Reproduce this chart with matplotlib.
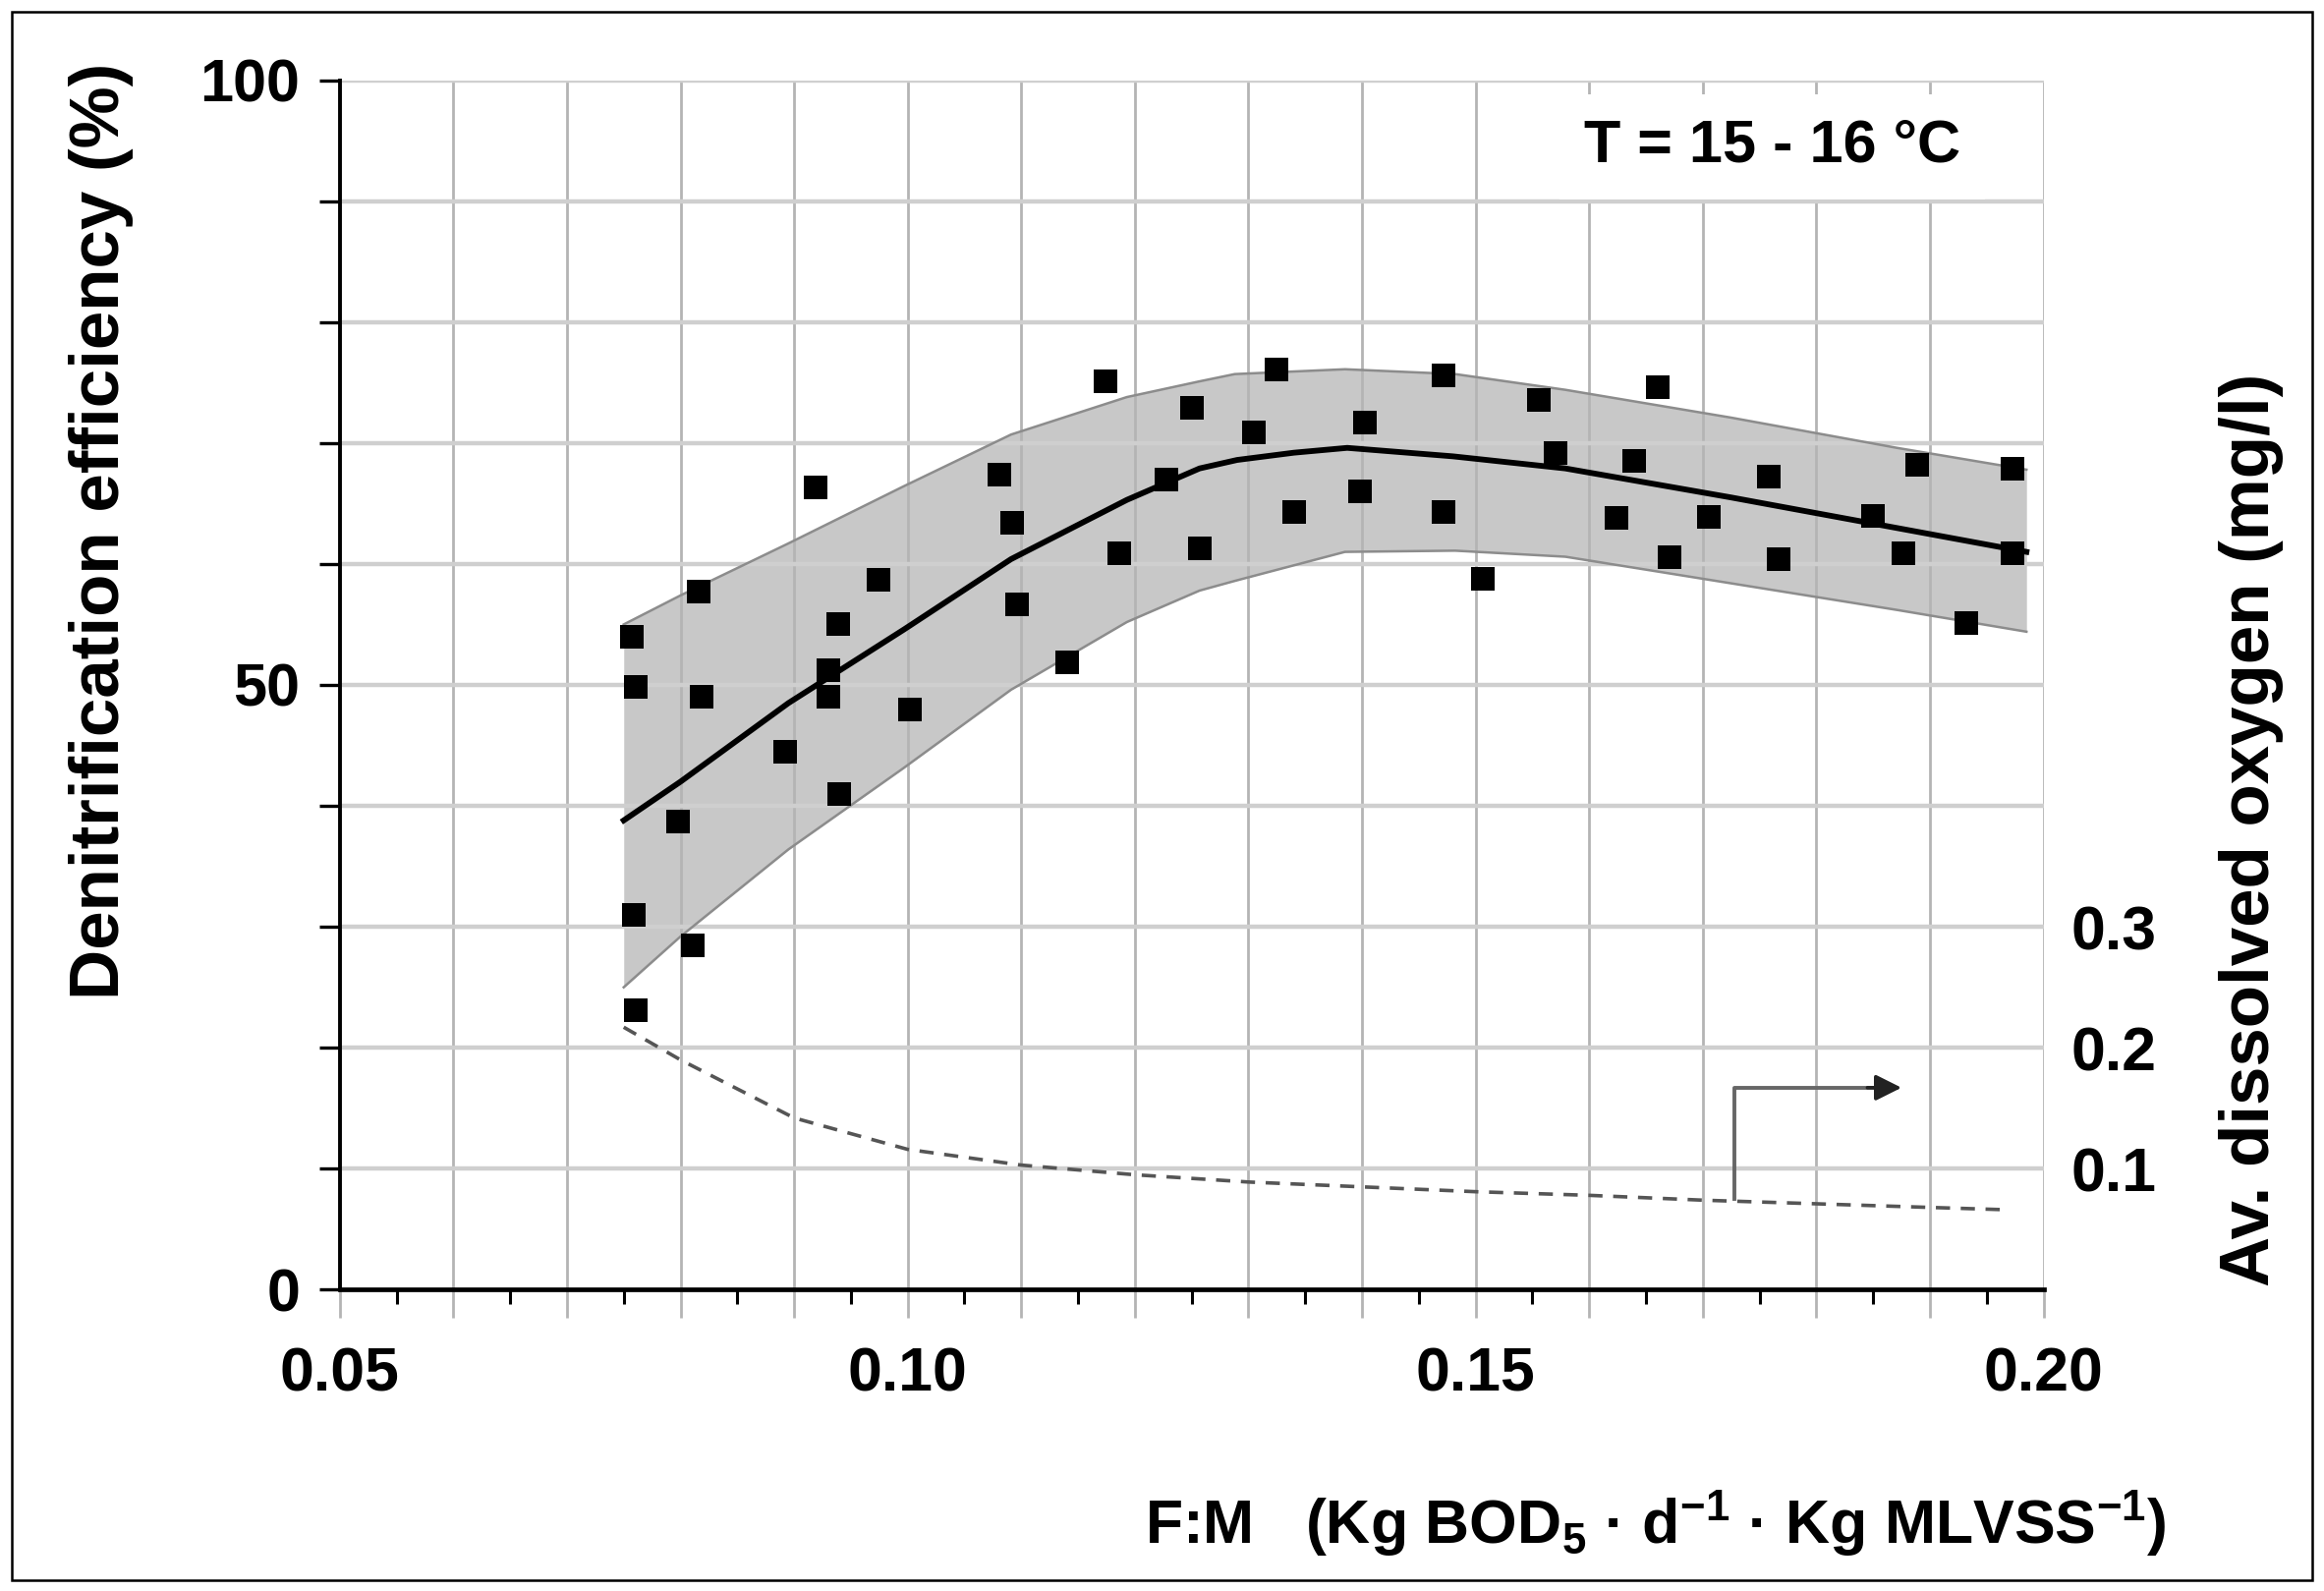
import numpy as np
import matplotlib
matplotlib.use("Agg")
import matplotlib.pyplot as plt
from matplotlib.patches import Rectangle

plt.rcParams['font.family'] = ['Liberation Sans', 'DejaVu Sans']
plt.rcParams['mathtext.fontset'] = 'custom'
plt.rcParams['mathtext.rm'] = 'Liberation Sans:bold'
plt.rcParams['mathtext.bf'] = 'Liberation Sans:bold'

# measured points: F:M ratio vs denitrification efficiency (%)
fm_obs = [0.0757, 0.0761, 0.0759, 0.0761, 0.0798, 0.0811, 0.0816, 0.0819,
          0.0892, 0.0919, 0.0930, 0.0930, 0.0939, 0.0940, 0.0974, 0.1002,
          0.1081, 0.1092, 0.1096, 0.1140, 0.1174, 0.1186, 0.1228, 0.1250,
          0.1257, 0.1305, 0.1325, 0.1340, 0.1398, 0.1403, 0.1472, 0.1472,
          0.1506, 0.1556, 0.1570, 0.1624, 0.1640, 0.1660, 0.1671, 0.1705,
          0.1758, 0.1767, 0.1850, 0.1877, 0.1889, 0.1932, 0.1973, 0.1973]
eff_obs = [54.0, 49.8, 31.0, 23.1, 38.7, 28.5, 57.7, 49.0,
           44.5, 66.3, 51.2, 49.0, 55.0, 41.0, 58.7, 48.0,
           67.4, 63.4, 56.7, 51.9, 75.1, 60.9, 67.0, 72.9,
           61.3, 70.9, 76.1, 64.3, 66.0, 71.7, 75.6, 64.3,
           58.8, 73.6, 69.2, 63.8, 68.5, 74.6, 60.6, 63.9,
           67.2, 60.4, 64.0, 60.9, 68.2, 55.1, 67.9, 60.9]

# mean trend line
fm_mean = [0.075, 0.080, 0.0895, 0.0997, 0.1091, 0.1193, 0.1257, 0.129,
           0.1340, 0.1387, 0.148, 0.1579, 0.1725, 0.1985]
eff_mean = [38.8, 42.0, 48.5, 54.6, 60.4, 65.3, 67.9, 68.6,
            69.2, 69.6, 68.9, 67.9, 65.5, 61.0]

# confidence band
fm_band = [0.075, 0.080, 0.0895, 0.0996, 0.1091, 0.1193, 0.1257, 0.1288,
           0.1385, 0.1482, 0.1579, 0.1725, 0.1871, 0.1985]
band_hi = [55.0, 57.4, 61.7, 66.4, 70.7, 73.8, 75.1, 75.7,
           76.1, 75.7, 74.4, 72.1, 69.6, 67.8]
band_lo = [25.0, 29.2, 36.4, 43.1, 49.6, 55.2, 57.8, 58.6,
           61.0, 61.1, 60.6, 58.4, 56.2, 54.4]

# average dissolved oxygen (mg/l), right axis
fm_do = [0.075, 0.080, 0.090, 0.100, 0.110, 0.120, 0.130, 0.140,
         0.150, 0.160, 0.170, 0.180, 0.190, 0.197]
do_val = [0.217, 0.190, 0.142, 0.116, 0.103, 0.095, 0.089, 0.085,
          0.081, 0.078, 0.074, 0.071, 0.068, 0.066]

x_labels = ['0.05', '0.10', '0.15', '0.20']
y_labels = ['0', '50', '100']
do_labels = ['0.1', '0.2', '0.3']

fig = plt.figure(figsize=(23.65, 16.19), dpi=100)
ax = fig.add_axes([0.1462, 0.1894, 0.7331, 0.7602])

ax.set_xlim(0.05, 0.20)
ax.set_ylim(0, 100)

# grid
for xv in np.arange(0.06, 0.2001, 0.01):
    ax.axvline(xv, color='#b4b4b4', lw=2.0, zorder=1)
for yv in np.arange(10, 100.1, 10):
    ax.axhline(yv, color='#cfcfcf', lw=3.2, zorder=1)

# band
ax.fill_between(fm_band, band_lo, band_hi, color='#c8c8c8', lw=0, zorder=0.5)
ax.plot(fm_band, band_hi, color='#8c8c8c', lw=1.8, zorder=2)
ax.plot(fm_band, band_lo, color='#8c8c8c', lw=1.8, zorder=2)

ax.plot(fm_mean, eff_mean, color='black', lw=4.2, zorder=3, solid_joinstyle='round')
ax.scatter(fm_obs, eff_obs, marker='s', s=17 ** 2, color='black', lw=0, zorder=4)

# spines and ticks
for s in ['top', 'right']:
    ax.spines[s].set_visible(False)
ax.spines['left'].set_linewidth(2.8)
ax.spines['bottom'].set_linewidth(3.4)

yt = np.arange(0, 101, 10)
ax.set_yticks(yt)
ax.set_yticklabels([str(v) if str(v) in y_labels else '' for v in yt])
ax.tick_params(axis='y', length=15, width=2.4, pad=14, labelsize=44, direction='out')

xt = np.round(np.arange(0.05, 0.2001, 0.01), 2)
ax.set_xticks(xt)
ax.set_xticklabels([f'{v:.2f}' if f'{v:.2f}' in x_labels else '' for v in xt])
ax.set_xticks(np.arange(0.055, 0.2, 0.01), minor=True)
ax.tick_params(axis='x', which='major', length=21, width=2.0, color='#b4b4b4',
               pad=20, labelsize=45)
ax.tick_params(axis='x', which='minor', length=11, width=2.2, color='black')
for t in ax.get_xticklabels() + ax.get_yticklabels():
    t.set_fontweight('bold')

# dissolved oxygen on right axis
ax2 = ax.twinx()
ax2.set_ylim(0, 1)
for s in ax2.spines.values():
    s.set_visible(False)
ax2.plot(fm_do, do_val, color='#555555', lw=2.6, dashes=(4, 3), zorder=3)
ax2.set_yticks([0.1, 0.2, 0.3])
ax2.set_yticklabels(do_labels, fontsize=45, fontweight='bold')
ax2.tick_params(axis='y', length=0, pad=20)

# arrow pointing to the right axis
arr_x0, arr_x1 = 0.1728, 0.1875
arr_y0, arr_y1 = 0.075, 0.167
ax2.plot([arr_x0, arr_x0, arr_x1 - 0.002], [arr_y0, arr_y1, arr_y1], color='#666666', lw=2.8)
ax2.annotate('', xy=(arr_x1, arr_y1), xytext=(arr_x1 - 0.003, arr_y1),
             arrowprops=dict(arrowstyle='-|>', color='#222222', lw=2.6,
                             mutation_scale=40, shrinkA=0, shrinkB=0))

# texts
fig.text(0.6815, 0.9077, 'T = 15 - 16 °C', fontsize=44, fontweight='bold',
         ha='left', va='center',
         bbox=dict(facecolor='white', edgecolor='none', pad=18))
fig.text(0.0434, 0.666, 'Denitrification efficiency (%)', rotation=90,
         fontsize=51, fontweight='bold', ha='center', va='center')
fig.text(0.9687, 0.4786, 'Av. dissolved oxygen (mg/l)', rotation=90,
         fontsize=51, fontweight='bold', ha='center', va='center')
fig.text(0.4925, 0.042,
         r'F:M   (Kg BOD$_{5}$ · d$^{-1}$ · Kg MLVSS$^{-1}$)',
         fontsize=45, fontweight='bold', ha='left', va='center')

fig.patches.append(Rectangle((0.005, 0.0068), 0.99, 0.9858, transform=fig.transFigure,
                             fill=False, edgecolor='black', lw=1.8))

fig.savefig('out.png', dpi=100)
